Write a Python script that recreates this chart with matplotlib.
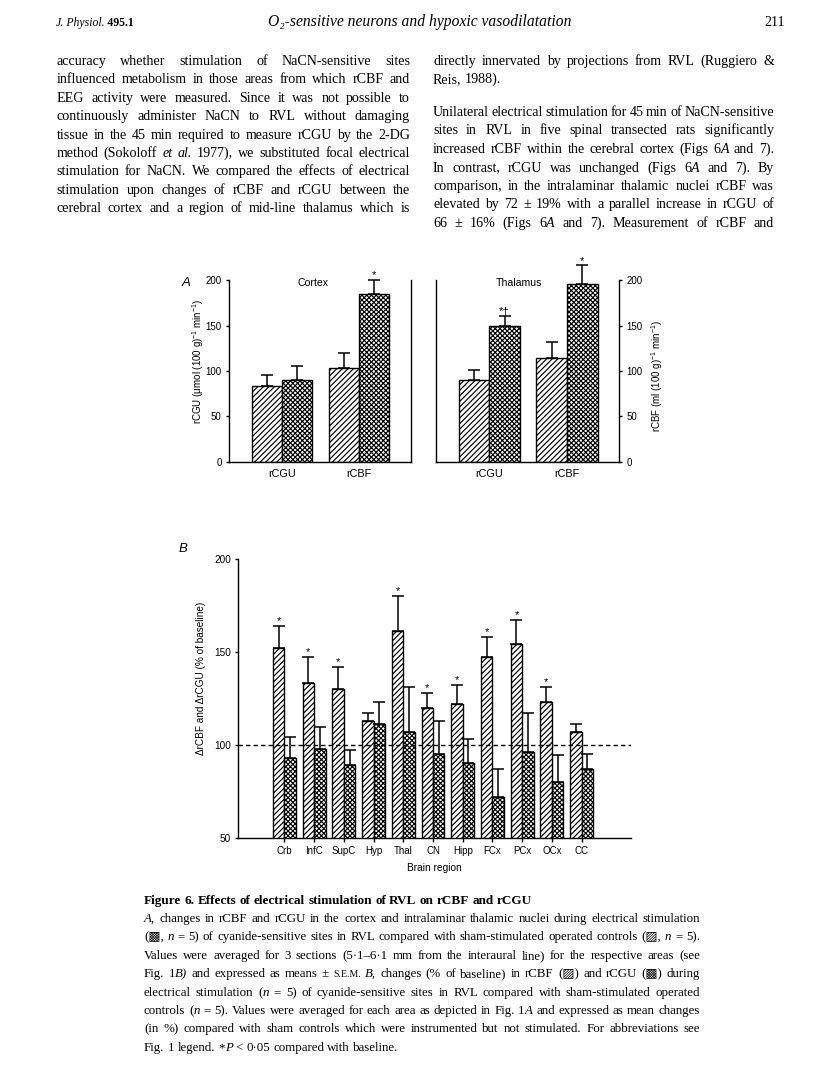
import matplotlib
matplotlib.use('Agg')
import matplotlib.pyplot as plt
import numpy as np

W, H, DPI = 816, 1088, 100

# ---------------- data ----------------
a_groups = ['rCGU', 'rCBF']
cortex_sham = [83, 103]
cortex_sham_err = [13, 17]
cortex_stim = [90, 185]
cortex_stim_err = [16, 15]
cortex_sig = ['', '*']
thal_sham = [90, 114]
thal_sham_err = [11, 18]
thal_stim = [149, 196]
thal_stim_err = [11, 20]
thal_sig = ['*\u2020', '*']
a_yticks = [0, 50, 100, 150, 200]

regions = ['Crb', 'InfC', 'SupC', 'Hyp', 'Thal', 'CN', 'Hipp', 'FCx', 'PCx', 'OCx', 'CC']
rcbf = [152, 133, 130, 113, 161, 120, 122, 147, 154, 123, 107]
rcbf_err = [12, 14, 12, 4, 19, 8, 10, 11, 13, 8, 4]
rcgu = [93, 97.5, 89, 111, 107, 95, 90, 72, 96, 80, 87]
rcgu_err = [11, 12, 8, 12, 24, 18, 13, 15, 21, 14.5, 8]
rcbf_sig = ['*', '*', '*', '', '*', '*', '*', '*', '*', '*', '']
b_yticks = [50, 100, 150, 200]
baseline = 100

header_left = '@J.|@\u2009Physiol.|#\u2009495.1'
header_title = 'O\u2082-sensitive neurons and hypoxic vasodilatation'
header_page = '211'

left_col = [
    'accuracy whether stimulation of NaCN-sensitive sites',
    'influenced metabolism in those areas from which rCBF and',
    'EEG activity were measured. Since it was not possible to',
    'continuously administer NaCN to RVL without damaging',
    'tissue in the 45 min required to measure rCGU by the 2-DG',
    'method (Sokoloff @et @al. 1977), we substituted focal electrical',
    'stimulation for NaCN. We compared the effects of electrical',
    'stimulation upon changes of rCBF and rCGU between the',
    'cerebral cortex and a region of mid-line thalamus which is',
]
right_col = [
    'directly innervated by projections from RVL (Ruggiero &',
    'Reis, 1988).',
    'Unilateral electrical stimulation for 45 min of NaCN-sensitive',
    'sites in RVL in five spinal transected rats significantly',
    'increased rCBF within the cerebral cortex (Figs 6|@A and 7).',
    'In contrast, rCGU was unchanged (Figs 6|@A and 7). By',
    'comparison, in the intralaminar thalamic nuclei rCBF was',
    'elevated by 72 \u00b1 19% with a parallel increase in rCGU of',
    '66 \u00b1 16% (Figs 6|@A and 7). Measurement of rCBF and',
]
right_last = [False, True, False, False, False, False, False, False, False]

caption_title = 'Figure 6. Effects of electrical stimulation of RVL on rCBF and rCGU'
caption = [
    '@A, changes in rCBF and rCGU in the cortex and intralaminar thalamic nuclei during electrical stimulation',
    '(\u25a9, @n = 5) of cyanide-sensitive sites in RVL compared with sham-stimulated operated controls (\u25a8, @n = 5).',
    'Values were averaged for 3 sections (5\u00b71\u20136\u00b71 mm from the interaural line) for the respective areas (see',
    'Fig. 1|@B) and expressed as means \u00b1 ^s.e.m. @B, changes (% of baseline) in rCBF (\u25a8) and rCGU (\u25a9) during',
    'electrical stimulation (|@n = 5) of cyanide-sensitive sites in RVL compared with sham-stimulated operated',
    'controls (|@n = 5). Values were averaged for each area as depicted in Fig. 1|@A and expressed as mean changes',
    '(in %) compared with sham controls which were instrumented but not stimulated. For abbreviations see',
    'Fig. 1 legend. *|@P < 0\u00b705 compared with baseline.',
]

# ---------------- style ----------------
plt.rcParams['hatch.linewidth'] = 0.85
plt.rcParams['hatch.color'] = 'black'
plt.rcParams['mathtext.fontset'] = 'custom'
plt.rcParams['mathtext.rm'] = 'Liberation Sans'
plt.rcParams['mathtext.it'] = 'Liberation Sans:italic'
plt.rcParams['mathtext.default'] = 'regular'
SANS = ['Liberation Sans', 'DejaVu Sans']
SERIF = ['Liberation Serif', 'DejaVu Serif', 'DejaVu Sans']
plt.rcParams['font.family'] = SANS

HATCH_SHAM = '//////'
HATCH_STIM = 'xxxxxxx'

fig = plt.figure(figsize=(W / DPI, H / DPI), dpi=DPI)
fig.patch.set_facecolor('white')
renderer = fig.canvas.get_renderer()


def fx(x):
    return x / W


def fy(y):
    return 1 - y / H


def px_axes(x0, y0, x1, y1):
    return fig.add_axes([fx(x0), fy(y1), (x1 - x0) / W, (y1 - y0) / H])


# ---------------- text helpers ----------------
def parse_piece(p, size):
    style, weight, caps = 'normal', 'normal', False
    while p and p[0] in '@#^':
        c, p = p[0], p[1:]
        if c == '@':
            style = 'italic'
        elif c == '#':
            weight = 'bold'
        else:
            caps = True
    sz = size
    if caps:
        p = p.upper()
        sz = size * 0.75
    return p, dict(fontsize=sz, style=style, weight=weight, family=SERIF)


def measure(txt, **kw):
    t = fig.text(0, 0, txt, **kw)
    w = t.get_window_extent(renderer).width
    t.remove()
    return w


def space_w(size):
    kw = dict(fontsize=size, family=SERIF)
    return measure('a a', **kw) - measure('aa', **kw)


def word_parts(word, size, bold=False):
    parts = []
    for p in word.split('|'):
        txt, kw = parse_piece(p, size)
        if bold:
            kw['weight'] = 'bold'
        parts.append((txt, kw, measure(txt, **kw)))
    return parts


def natural_width(line, size, bold=False):
    words = line.split(' ')
    tot = sum(sum(w for _, _, w in word_parts(wd, size, bold)) for wd in words)
    return tot + space_w(size) * (len(words) - 1)


def draw_line(line, x0, x1, ybase, size, justify=True, bold=False, align='left'):
    words = [word_parts(wd, size, bold) for wd in line.split(' ')]
    widths = [sum(w for _, _, w in wp) for wp in words]
    sp = space_w(size)
    if justify and len(words) > 1:
        gap = (x1 - x0 - sum(widths)) / (len(words) - 1)
    else:
        gap = sp
    total = sum(widths) + gap * (len(words) - 1)
    if align == 'center':
        x = (x0 + x1) / 2 - total / 2
    elif align == 'right':
        x = x1 - total
    else:
        x = x0
    yb = round(ybase)
    for wp, ww in zip(words, widths):
        xx = x
        for txt, kw, w in wp:
            fig.text(fx(xx), fy(yb), txt, ha='left', va='baseline', **kw)
            xx += w
        x += ww + gap


def fit_size(lines, x0, x1, base):
    mx = max(natural_width(l, base) for l in lines)
    return base * (x1 - x0) / mx


# ---------------- page text ----------------
hs = 8.5
draw_line(header_left, 56, 140, 26, hs, justify=False)
ts = 11 * 303 / measure(header_title, fontsize=11, style='italic', family=SERIF)
fig.text(fx(420), fy(26), header_title, ha='center', va='baseline', fontsize=ts,
         style='italic', family=SERIF)
fig.text(fx(785), fy(26), header_page, ha='right', va='baseline', fontsize=10, family=SERIF)

body_size = fit_size([left_col[4], right_col[2]], 0, 347, 10.5)
LX0, LX1, RX0, RX1 = 56.5, 410, 433, 774
for i, line in enumerate(left_col):
    draw_line(line, LX0, LX1, 65 + i * 18.4, body_size, justify=True)
right_y = [65, 83.4, 116, 134.5, 153, 171.5, 190, 208.5, 227]
for line, y, last in zip(right_col, right_y, right_last):
    draw_line(line, RX0, RX1, y, body_size, justify=not last)

CX0, CX1 = 144, 700
cap_size = fit_size(caption[:7], CX0, CX1, 9.5)
draw_line(caption_title, CX0, CX1, 904, cap_size * 1.02, justify=False, bold=True)
for i, line in enumerate(caption):
    draw_line(line, CX0, CX1, 922 + i * 18.4, cap_size, justify=(i < len(caption) - 1))


# ---------------- panel A ----------------
BAR_LW = 1.0
A_FS = 7


def bar_pair(ax, pos, v1, e1, v2, e2, width, cap):
    ax.bar(pos - width / 2, v1, width, facecolor='white', edgecolor='black',
           hatch=HATCH_SHAM, linewidth=BAR_LW, zorder=2)
    ax.bar(pos + width / 2, v2, width, facecolor='white', edgecolor='black',
           hatch=HATCH_STIM, linewidth=BAR_LW, zorder=2)
    for xs, vs, es in ((pos - width / 2, v1, e1), (pos + width / 2, v2, e2)):
        ax.errorbar(xs, vs, yerr=[np.zeros(len(vs)), es], fmt='none', ecolor='black',
                    elinewidth=1.1, capsize=cap, capthick=1.1, zorder=3, clip_on=False)


def panel_a(ax, sham, sham_e, stim, stim_e, sig, side):
    pos = 1.75 + np.arange(len(a_groups)) * 2.54
    bw = 1.0
    bar_pair(ax, pos, sham, sham_e, stim, stim_e, bw, 4)
    top = np.array(stim) + np.array(stim_e)
    for x, t, s in zip(pos + bw / 2, top, sig):
        if s:
            ax.annotate(s, (x, t), xytext=(0, 1.2), textcoords='offset points',
                        ha='center', va='baseline', fontsize=8, annotation_clip=False)
    ax.set_xlim(0, 6)
    ax.set_ylim(0, 200)
    ax.set_xticks(pos)
    ax.set_xticklabels(a_groups, fontsize=7.8)
    ax.tick_params(axis='x', length=0, pad=5)
    ax.set_yticks(a_yticks)
    ax.spines['top'].set_visible(False)
    for s in ('left', 'right', 'bottom'):
        ax.spines[s].set_linewidth(1.0)
    if side == 'left':
        ax.tick_params(axis='y', direction='out', length=2.2, width=1, labelsize=A_FS, pad=3,
                       left=True, right=False, labelleft=True)
    else:
        ax.tick_params(axis='y', direction='out', length=2.2, width=1, labelsize=A_FS, pad=3,
                       left=False, right=True, labelleft=False, labelright=True)
    ax.set_facecolor('none')


axL = px_axes(229, 280, 411, 462)
panel_a(axL, cortex_sham, cortex_sham_err, cortex_stim, cortex_stim_err, cortex_sig, 'left')
axR = px_axes(435.7, 280, 619.3, 462)
panel_a(axR, thal_sham, thal_sham_err, thal_stim, thal_stim_err, thal_sig, 'right')

fig.text(fx(186), fy(283), 'A', fontsize=9.5, style='italic', ha='center', va='center')
fig.text(fx(313), fy(283), 'Cortex', fontsize=7.6, ha='center', va='center')
fig.text(fx(519), fy(283), 'Thalamus', fontsize=7.6, ha='center', va='center')
fig.text(fx(198), fy(361), r'rCGU ($\mu$mol (100 g)$^{-1}$ min$^{-1}$)', rotation=90,
         fontsize=7.0, ha='center', va='center')
fig.text(fx(657), fy(376), r'rCBF (ml (100 g)$^{-1}$ min$^{-1}$)', rotation=90,
         fontsize=7.0, ha='center', va='center')

# ---------------- panel B ----------------
axB = px_axes(238.3, 559, 630.7, 837.7)
posB = 1.55 + np.arange(len(regions))
bwB = 0.385
bar_pair(axB, posB, rcbf, rcbf_err, rcgu, rcgu_err, bwB, 4)
topB = np.array(rcbf) + np.array(rcbf_err)
for x, t, s in zip(posB - bwB / 2, topB, rcbf_sig):
    if s:
        axB.annotate(s, (x, t), xytext=(0, 1.5), textcoords='offset points',
                     ha='center', va='baseline', fontsize=8)
axB.axhline(baseline, color='black', linestyle=(0, (3.2, 2.2)), linewidth=1.0, zorder=4)
axB.set_xlim(0, 13.2)
axB.set_ylim(50, 200)
axB.set_yticks(b_yticks)
axB.set_xticks(posB)
axB.set_xticklabels(regions, fontsize=7)
axB.tick_params(axis='x', direction='inout', length=6, width=1, pad=3)
axB.tick_params(axis='y', direction='out', length=2.2, width=1, labelsize=7.2, pad=3)
axB.spines['top'].set_visible(False)
axB.spines['right'].set_visible(False)
for s in ('left', 'bottom'):
    axB.spines[s].set_linewidth(1.0)
axB.set_facecolor('none')

fig.text(fx(183), fy(549), 'B', fontsize=9.5, style='italic', ha='center', va='center')
fig.text(fx(434), fy(868), 'Brain region', fontsize=7.3, ha='center', va='center')
fig.text(fx(201), fy(678), '\u0394rCBF and \u0394rCGU (% of baseline)', rotation=90,
         fontsize=7.2, ha='center', va='center')

fig.savefig('out.png', dpi=DPI, facecolor='white')
